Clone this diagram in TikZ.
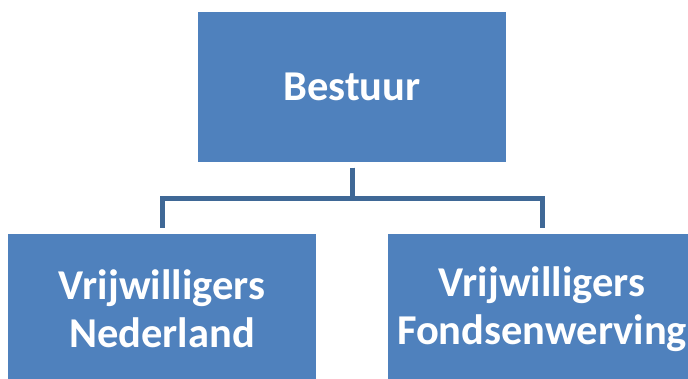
\documentclass[tikz,border=0pt]{standalone}
\usepackage{fontspec}
\setmainfont{Carlito}
\usepackage{tikz}
\usetikzlibrary{positioning}

\definecolor{boxblue}{HTML}{4F81BD}
\definecolor{lineblue}{HTML}{3F6896}

\begin{document}
\begin{tikzpicture}[x=1pt, y=-1pt,
					orgbox/.style={rectangle, fill=boxblue, text=white,
						minimum width=308, minimum height=150, inner sep=0pt,
						align=center, font=\fontsize{42.5}{48}\selectfont\bfseries},
					orgline/.style={draw=lineblue, line width=5pt,
						shorten <=6pt, shorten >=6pt}]
					\useasboundingbox (0,0) rectangle (688,378);
					\clip (0,0) rectangle (688,378);

					\node[orgbox] (bestuur) at (352, 86.5) {Bestuur};
					\node[orgbox] (nederland) at (162, 309) {Vrijwilligers\\Nederland};
					\node[orgbox] (fondsen) at (542, 309) {Vrijwilligers\\Fondsenwerving};

					\coordinate (fork) at (352, 198.5);

					\draw[orgline] (bestuur) -- (fork) -| (nederland);
					\draw[orgline] (bestuur) -- (fork) -| (fondsen);
				\end{tikzpicture}
\end{document}
